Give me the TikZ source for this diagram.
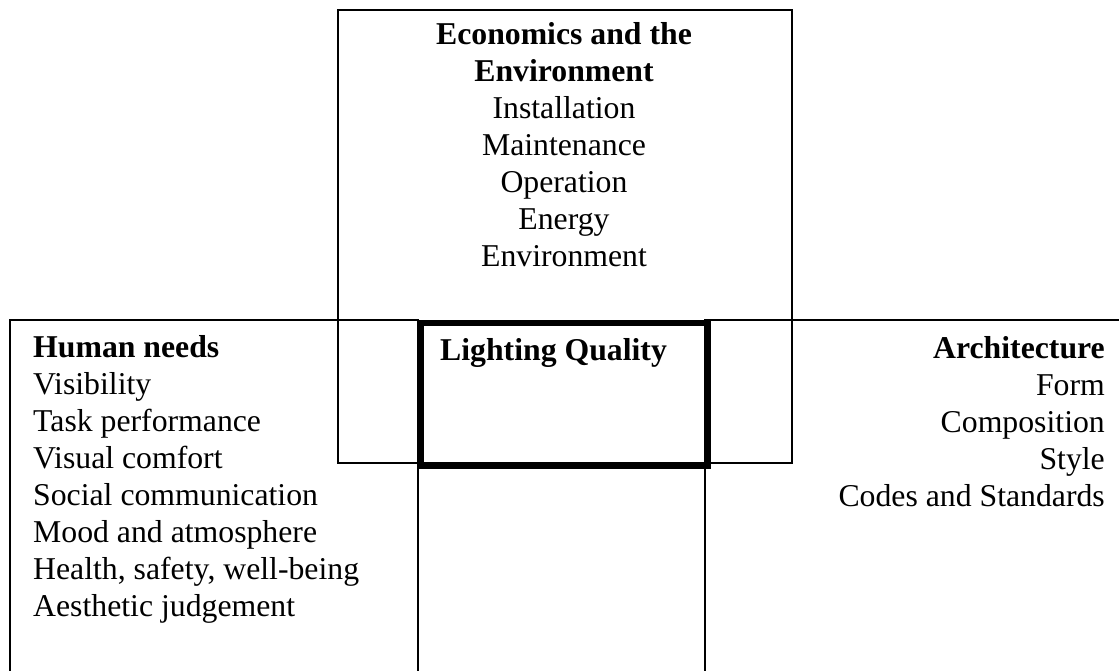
\documentclass[tikz,border=0pt]{standalone}
\usepackage{fontspec}
\setmainfont{Liberation Serif}
\begin{document}
\begin{tikzpicture}[x=1pt,y=-1pt,
  frame/.style={draw, line width=1.6pt, inner sep=0pt, anchor=north west},
  core/.style={draw, line width=6pt, inner sep=0pt, anchor=north west},
  label/.style={inner sep=0pt, font=\fontsize{31.75}{37}\selectfont}]
\useasboundingbox (0,0) rectangle (1119,670);
\clip (0,0) rectangle (1119,670);

% outer frames (left and right ones run past the page edge)
\node[frame, minimum width=454pt, minimum height=453pt] (econ) at (337,9) {};
\node[frame, minimum width=408pt, minimum height=400pt] (human) at (9,319) {};
\node[frame, minimum width=460pt, minimum height=400pt] (arch) at (704,319) {};

% central heavy frame
\node[core, minimum width=287pt, minimum height=143pt] (quality) at (418,319.5) {};

% texts (base anchor sits on the last line's baseline)
\node[label, anchor=base, align=center] (econtext) at (564,266)
  {\textbf{Economics and the}\\\textbf{Environment}\\Installation\\Maintenance\\Operation\\Energy\\Environment};
\node[label, anchor=base west, align=left] (humantext) at (33,616)
  {\textbf{Human needs}\\Visibility\\Task performance\\Visual comfort\\Social communication\\Mood and atmosphere\\Health, safety, well-being\\Aesthetic judgement};
\node[label, anchor=base east, align=right] (archtext) at (1105,506)
  {\textbf{Architecture}\\Form\\Composition\\Style\\Codes and Standards};
\node[label, anchor=base west] (qualitytext) at (440,360) {\textbf{Lighting Quality}};
\end{tikzpicture}
\end{document}
